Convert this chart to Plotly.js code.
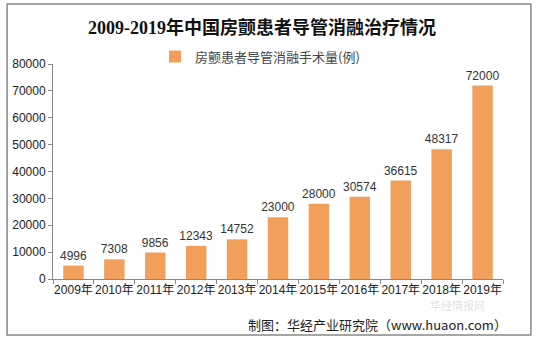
<!DOCTYPE html>
<html>
<head>
<meta charset="utf-8">
<script src="https://cdn.plot.ly/plotly-3.0.1.min.js"></script>
<style>html,body{margin:0;padding:0;background:#fff;}#chart{width:540px;height:343px;}</style>
</head>
<body>
<div id="chart"></div>
<script>
const categories = ["2009年","2010年","2011年","2012年","2013年","2014年","2015年","2016年","2017年","2018年","2019年"];
const values = [4996, 7308, 9856, 12343, 14752, 23000, 28000, 30574, 36615, 48317, 72000];
const seriesName = "房颤患者导管消融手术量(例)";
const yTicks = [0,10000,20000,30000,40000,50000,60000,70000,80000];

const barColor = '#F29F5C';

const trace = {
  type: 'bar',
  x: categories,
  y: values,
  name: seriesName,
  marker: {color: barColor},
  text: values.map(String),
  textposition: 'outside',
  constraintext: 'none',
  cliponaxis: false,
  textfont: {family: 'Liberation Sans, Arial, sans-serif', size: 12, color: '#333'},
  showlegend: false,
  hoverinfo: 'x+y'
};

const legendTrace = {
  type: 'scatter', mode: 'markers',
  x: [null], y: [null],
  name: seriesName,
  marker: {symbol: 'square', size: 7, color: barColor},
  showlegend: true
};

const layout = {
  width: 540, height: 343,
  margin: {l: 53, r: 37, t: 64, b: 64},
  paper_bgcolor: '#fff', plot_bgcolor: '#fff',
  bargap: 0.5,
  title: {
    text: '<b>2009-2019年中国房颤患者导管消融治疗情况</b>',
    font: {family: 'Liberation Serif, Noto Sans CJK SC, serif', size: 18, color: '#111'},
    x: 0.485, xanchor: 'center', y: 0.918, yanchor: 'middle'
  },
  showlegend: true,
  legend: {
    orientation: 'h', x: 0.46, xanchor: 'center', y: 1.035, yanchor: 'middle',
    font: {family: 'Noto Sans CJK SC, sans-serif', size: 13, color: '#444'},
    itemwidth: 30, itemsizing: 'constant'
  },
  xaxis: {
    type: 'category',
    categoryorder: 'array', categoryarray: categories,
    showline: true, linecolor: '#888', linewidth: 1,
    ticks: 'outside', tickson: 'boundaries', ticklen: 4, tickcolor: '#888',
    showgrid: false, tickangle: 0,
    tickfont: {family: 'Liberation Sans, Noto Sans CJK SC, sans-serif', size: 12, color: '#222'}
  },
  yaxis: {
    range: [0, 80000],
    tickvals: yTicks,
    ticktext: yTicks.map(String),
    showline: true, linecolor: '#888', linewidth: 1,
    ticks: 'outside', ticklen: 4, tickcolor: '#888',
    showgrid: false, zeroline: false,
    tickfont: {family: 'Liberation Sans, Arial, sans-serif', size: 12, color: '#222'}
  },
  shapes: [{
    type: 'rect', xref: 'paper', yref: 'paper',
    x0: -0.102, x1: 1.062, y0: -0.26, y1: 1.279,
    line: {color: '#888', width: 1.5}, fillcolor: 'rgba(0,0,0,0)', layer: 'below'
  }],
  annotations: [
    {
      text: '制图：华经产业研究院（www.huaon.com）',
      xref: 'paper', yref: 'paper', x: 1.012, y: -0.212, xanchor: 'right', yanchor: 'middle',
      showarrow: false, borderpad: 0,
      font: {family: 'Noto Sans CJK SC, Liberation Sans, sans-serif', size: 13, color: '#222'}
    },
    {
      text: '华经情报网',
      xref: 'paper', yref: 'paper', x: 0.898, y: -0.122, xanchor: 'center', yanchor: 'middle',
      showarrow: false, borderpad: 0,
      font: {family: 'Noto Sans CJK SC, sans-serif', size: 11, color: 'rgba(150,150,150,0.3)'}
    }
  ]
};

Plotly.newPlot('chart', [trace, legendTrace], layout, {displayModeBar: false, staticPlot: true});
</script>
</body>
</html>
